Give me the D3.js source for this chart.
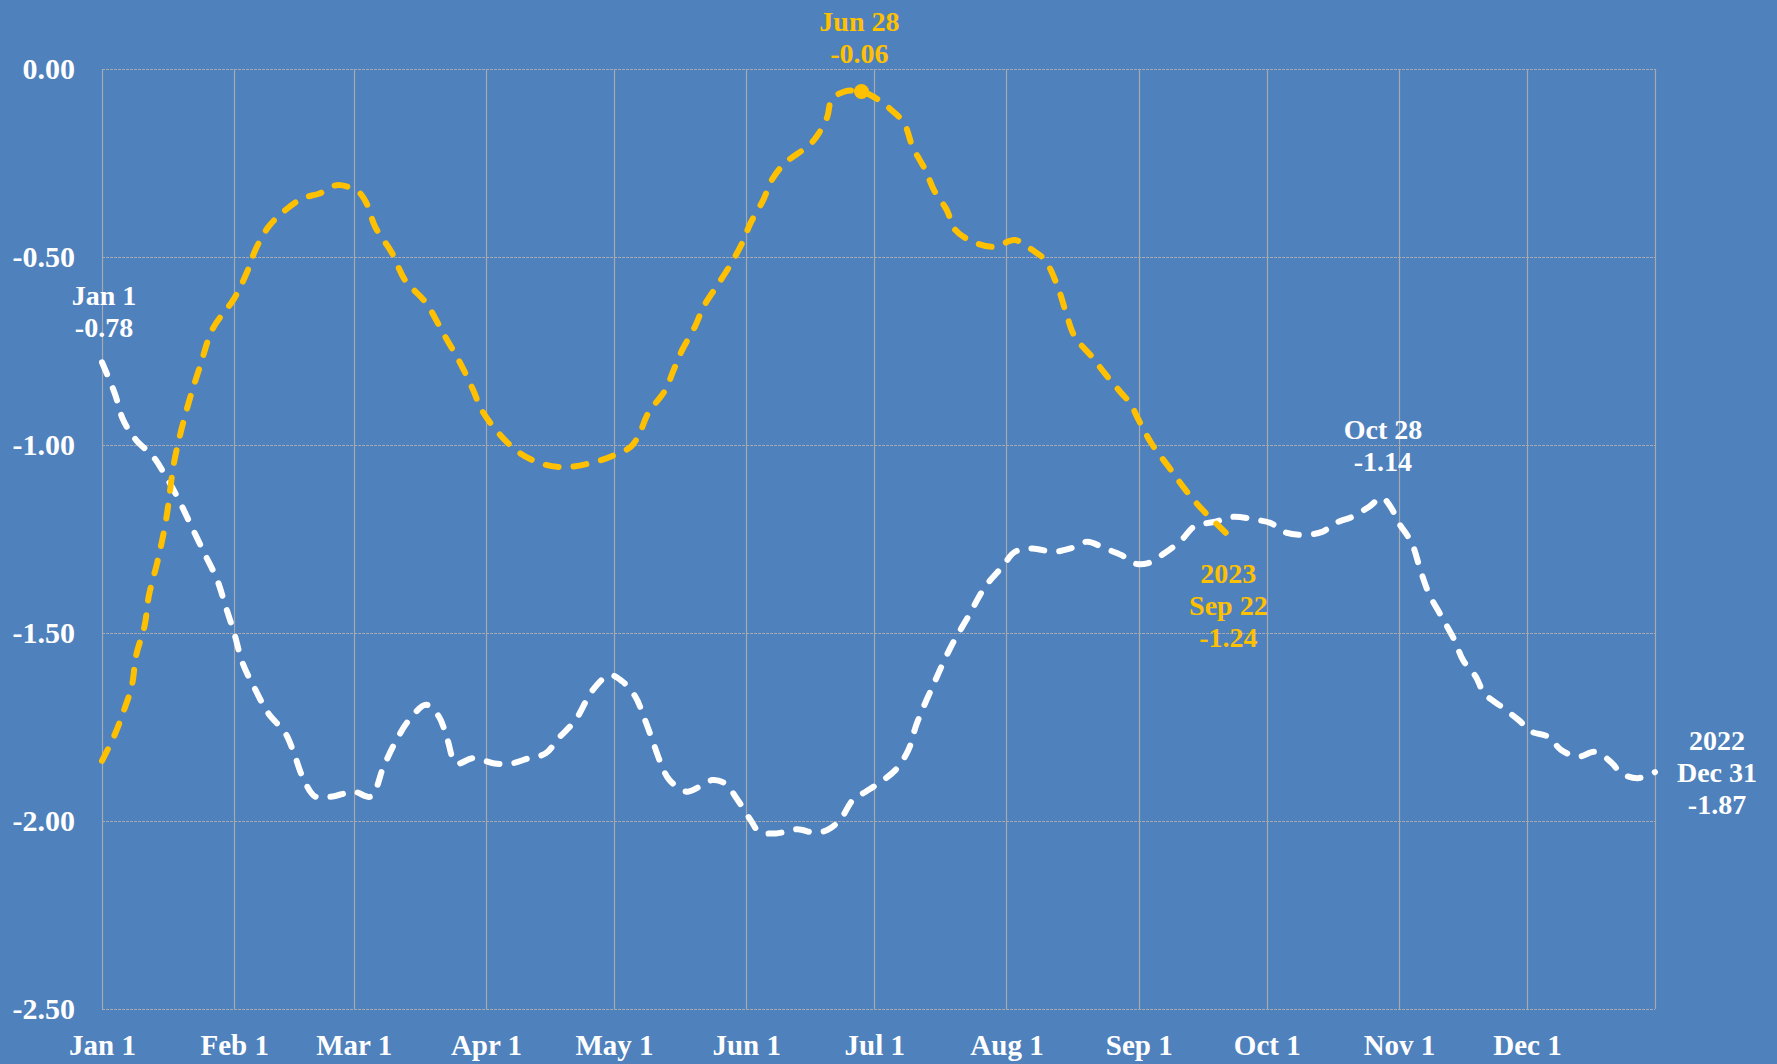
<html>
  <head>
    <meta charset="UTF-8">
    <style>
      body { margin: 0; background: #4F81BD; }
      text { font-family: "Liberation Serif", "DejaVu Serif", serif; font-weight: bold; }
    </style>
  </head>
  <body>
    <script src="https://d3js.org/d3.v7.min.js"></script>
    <script>

// 2022 series: days since Jan 1, value
var days2022 = [0, 3, 5, 8, 12, 15, 18, 21, 24, 27, 29, 31, 33, 36, 39, 43, 45, 47, 50, 54,
    59, 63, 66, 69, 72, 76, 79, 81, 83, 87, 92, 96, 100, 104, 107, 111, 115, 119, 122, 125,
    127, 129, 131, 133, 137, 140, 143, 146, 149, 152, 154, 158, 163, 167, 170, 173, 176, 179, 182, 186,
    189, 191, 195, 199, 203, 207, 211, 214, 218, 223, 227, 231, 235, 239, 242, 245, 249, 253, 256, 261,
    265, 270, 274, 277, 281, 286, 289, 293, 297, 300, 302, 304, 307, 309, 311, 314, 317, 319, 322, 324,
    328, 332, 335, 339, 342, 346, 350, 354, 356, 360, 364];
var values2022 = [-0.78, -0.863, -0.934, -0.987, -1.031, -1.084, -1.146, -1.217, -1.288, -1.359, -1.43, -1.501, -1.581, -1.652, -1.714, -1.767, -1.82, -1.882, -1.935, -1.935,
    -1.922, -1.935, -1.855, -1.785, -1.731, -1.691, -1.723, -1.785, -1.847, -1.833, -1.847, -1.847, -1.833, -1.82, -1.78, -1.731, -1.652, -1.612, -1.629, -1.669,
    -1.723, -1.785, -1.847, -1.891, -1.922, -1.909, -1.891, -1.9, -1.944, -1.997, -2.028, -2.033, -2.022, -2.031, -2.024, -1.997, -1.944, -1.922, -1.9, -1.864,
    -1.811, -1.74, -1.634, -1.536, -1.457, -1.377, -1.324, -1.284, -1.275, -1.284, -1.275, -1.257, -1.275, -1.293, -1.315, -1.315, -1.288, -1.253, -1.217, -1.204,
    -1.191, -1.198, -1.208, -1.231, -1.239, -1.231, -1.208, -1.191, -1.164, -1.14, -1.164, -1.208, -1.261, -1.332, -1.395, -1.457, -1.519, -1.572, -1.616, -1.661,
    -1.696, -1.731, -1.762, -1.776, -1.811, -1.829, -1.816, -1.847, -1.873, -1.886, -1.87];

// 2023 series (to Sep 22)
var days2023 = [0, 3, 5, 7, 8, 10, 11, 13, 15, 17, 20, 23, 26, 31, 34, 36, 39, 43, 47, 51,
    55, 60, 62, 64, 68, 71, 76, 80, 84, 87, 89, 93, 98, 104, 110, 117, 120, 124, 126, 128,
    132, 134, 136, 139, 141, 144, 147, 150, 152, 155, 157, 160, 166, 168, 170, 171, 174, 178, 182, 185,
    188, 190, 193, 195, 198, 200, 204, 209, 214, 218, 221, 224, 226, 228, 232, 235, 239, 241, 243, 246,
    250, 254, 258, 264];
var values2023 = [-1.84, -1.77, -1.71, -1.64, -1.56, -1.48, -1.4, -1.31, -1.2, -1.04, -0.9, -0.79, -0.69, -0.61, -0.54, -0.48, -0.42, -0.375, -0.344, -0.331,
    -0.309, -0.326, -0.357, -0.419, -0.49, -0.561, -0.623, -0.703, -0.783, -0.854, -0.907, -0.969, -1.022, -1.053, -1.058, -1.04, -1.027, -1.004, -0.969, -0.916,
    -0.854, -0.8, -0.747, -0.685, -0.632, -0.579, -0.526, -0.464, -0.41, -0.348, -0.295, -0.251, -0.2, -0.171, -0.127, -0.082, -0.06, -0.06, -0.082, -0.109,
    -0.144, -0.207, -0.269, -0.322, -0.375, -0.428, -0.459, -0.473, -0.455, -0.481, -0.508, -0.579, -0.65, -0.712, -0.765, -0.809, -0.863, -0.889, -0.934, -0.996,
    -1.058, -1.12, -1.173, -1.24];

var yTicks = [0, -0.5, -1, -1.5, -2, -2.5];

var width = 1777, height = 1064;
var plotLeft = 102, plotRight = 1655, plotTop = 69, plotBottom = 1009;
var white = "#FFFFFF", gold = "#FFC000";

var start = new Date(2022, 0, 1);
function day(d) { return d3.timeDay.offset(start, d); }

var x = d3.scaleTime().domain([start, new Date(2022, 11, 31)]).range([plotLeft, plotRight]);
var y = d3.scaleLinear().domain([-2.5, 0]).range([plotBottom, plotTop]);

var svg = d3.select("body").append("svg")
    .attr("width", width).attr("height", height);

svg.append("rect").attr("width", width).attr("height", height).attr("fill", "#4F81BD");

// grid
var months = d3.timeMonth.range(start, new Date(2022, 11, 31));
var vlines = months.concat([new Date(2022, 11, 31)]);
svg.append("g").selectAll("line").data(vlines).enter().append("line")
    .attr("x1", function(d) { return Math.round(x(d)) + 0.5; })
    .attr("x2", function(d) { return Math.round(x(d)) + 0.5; })
    .attr("y1", plotTop).attr("y2", plotBottom)
    .style("stroke", "#A4A9B2").style("stroke-width", 1.2);
svg.append("g").selectAll("line").data(yTicks).enter().append("line")
    .attr("x1", plotLeft).attr("x2", plotRight)
    .attr("y1", function(d) { return Math.round(y(d)) + 0.5; })
    .attr("y2", function(d) { return Math.round(y(d)) + 0.5; })
    .style("stroke", "#A4A9B2").style("stroke-width", 1.2)
    .style("stroke-dasharray", "3,1");

// axes
var xAxis = svg.append("g").attr("transform", "translate(0," + plotBottom + ")")
    .call(d3.axisBottom(x).tickValues(months).tickSize(0).tickFormat(d3.timeFormat("%b %-d")));
xAxis.select(".domain").remove();
xAxis.selectAll("text").attr("y", 36).attr("dy", "0.35em")
    .attr("fill", white).style("font-size", "29px");

var yAxis = svg.append("g").attr("transform", "translate(" + plotLeft + ",0)")
    .call(d3.axisLeft(y).tickValues(yTicks).tickSize(0).tickPadding(27)
        .tickFormat(function(d) { return d.toFixed(2); }));
yAxis.select(".domain").remove();
yAxis.selectAll("text").attr("fill", white).style("font-size", "30px");

// lines
var line = d3.line()
    .x(function(d) { return x(day(d[0])); })
    .y(function(d) { return y(d[1]); })
    .curve(d3.curveCatmullRom.alpha(0.5));

var s2022 = d3.zip(days2022, values2022);
var s2023 = d3.zip(days2023, values2023);

svg.append("path").datum(s2022).attr("d", line)
    .attr("fill", "none").attr("stroke", white).attr("stroke-width", 6)
    .attr("stroke-linecap", "round").attr("stroke-dasharray", "13,15");
svg.append("path").datum(s2023).attr("d", line)
    .attr("fill", "none").attr("stroke", gold).attr("stroke-width", 6)
    .attr("stroke-linecap", "round").attr("stroke-dasharray", "13,15");

// peak marker 2023
svg.append("circle").attr("cx", x(day(178))).attr("cy", y(-0.06)).attr("r", 7.5).attr("fill", gold);

// annotations: [day, value, lines, colour, dx, first line dy]
var notes = [
    [0, -0.78, ["Jan 1", "-0.78"], white, 2, -67],
    [178, -0.06, ["Jun 28", "-0.06"], gold, -2, -70],
    [300, -1.14, ["Oct 28", "-1.14"], white, 1, -68],
    [264, -1.24, ["2023", "Sep 22", "-1.24"], gold, 0, 38],
    [364, -1.87, ["2022", "Dec 31", "-1.87"], white, 62, -32]
];
notes.forEach(function(n) {
    var t = svg.append("text")
        .attr("fill", n[3]).attr("text-anchor", "middle")
        .style("font-size", "28px");
    n[2].forEach(function(s, i) {
        t.append("tspan").attr("x", x(day(n[0])) + n[4])
            .attr("y", y(n[1]) + n[5] + i * 32)
            .attr("dominant-baseline", "central").text(s);
    });
});

    </script>
  </body>
</html>
